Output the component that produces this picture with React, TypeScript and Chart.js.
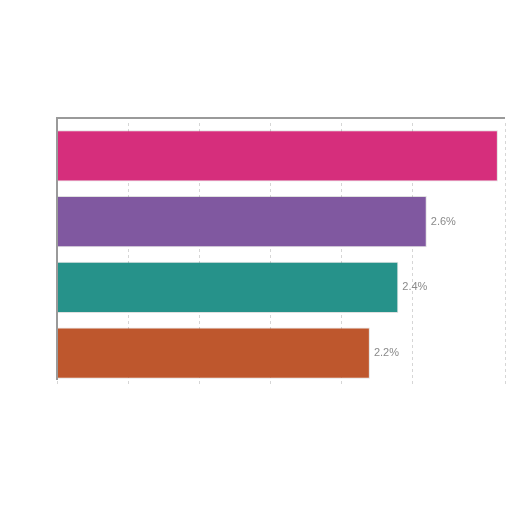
import { useEffect, useRef } from 'react'
import { Chart, registerables } from 'chart.js'

Chart.register(...registerables)

const categories = ['Category 1', 'Category 2', 'Category 3', 'Category 4']
const values = [3.1, 2.6, 2.4, 2.2]
const valueLabels = ['3.1%', '2.6%', '2.4%', '2.2%']
const barColors = ['#D62E7C', '#8058A0', '#26928A', '#BE572D']

// frame on top and left of the plot, a little above the first bar
const frame = {
  id: 'frame',
  afterDatasetsDraw(chart: Chart) {
    const { ctx, chartArea } = chart
    const top = chartArea.top - 5
    ctx.save()
    ctx.strokeStyle = '#9a9a9a'
    ctx.lineWidth = 2
    ctx.beginPath()
    ctx.moveTo(chartArea.right, top)
    ctx.lineTo(chartArea.left, top)
    ctx.lineTo(chartArea.left, chartArea.bottom - 6)
    ctx.stroke()
    ctx.restore()
  },
}

// draws the percentage text just past the end of each bar
const endLabels = {
  id: 'endLabels',
  afterDatasetsDraw(chart: Chart) {
    const { ctx } = chart
    const meta = chart.getDatasetMeta(0)
    ctx.save()
    ctx.font = '11px "Liberation Sans", Arial, sans-serif'
    ctx.fillStyle = '#8a8a8a'
    ctx.textBaseline = 'middle'
    meta.data.forEach((bar: any, i: number) => {
      const text = valueLabels[i]
      const x = bar.x + 4
      if (x + ctx.measureText(text).width > chart.width) return
      ctx.fillText(text, x, bar.y)
    })
    ctx.restore()
  },
}

export default function App() {
  const chartRef = useRef<HTMLCanvasElement | null>(null)
  const chartInstance = useRef<Chart | null>(null)

  useEffect(() => {
    if (!chartRef.current) return
    if (chartInstance.current) chartInstance.current.destroy()

    const ctx = chartRef.current.getContext('2d')
    if (!ctx) return

    chartInstance.current = new Chart(ctx, {
      type: 'bar',
      data: {
        labels: categories,
        datasets: [
          {
            data: values,
            backgroundColor: barColors,
            borderColor: 'rgba(0,0,0,0.12)',
            borderWidth: 1,
            barPercentage: 0.78,
            categoryPercentage: 1,
          },
        ],
      },
      options: {
        indexAxis: 'y',
        animation: false,
        responsive: true,
        maintainAspectRatio: false,
        layout: { padding: { left: 57, top: 123, right: 7, bottom: 126 } },
        scales: {
          x: {
            position: 'top',
            min: 0,
            max: 3.15,
            ticks: { display: false, stepSize: 0.5 },
            grid: { color: '#d6d6d6', drawTicks: false },
            border: { display: false, dash: [3, 3] },
          },
          y: {
            ticks: { display: false },
            grid: { display: false, drawTicks: false },
            border: { display: false },
          },
        },
        plugins: {
          legend: { display: false },
          tooltip: { enabled: false },
        },
      },
      plugins: [frame, endLabels],
    })

    return () => {
      if (chartInstance.current) {
        chartInstance.current.destroy()
        chartInstance.current = null
      }
    }
  }, [])

  return (
    <div style={{ position: 'fixed', left: 0, top: 0, width: 512, height: 512, background: '#fff' }}>
      <canvas ref={chartRef}></canvas>
    </div>
  )
}
